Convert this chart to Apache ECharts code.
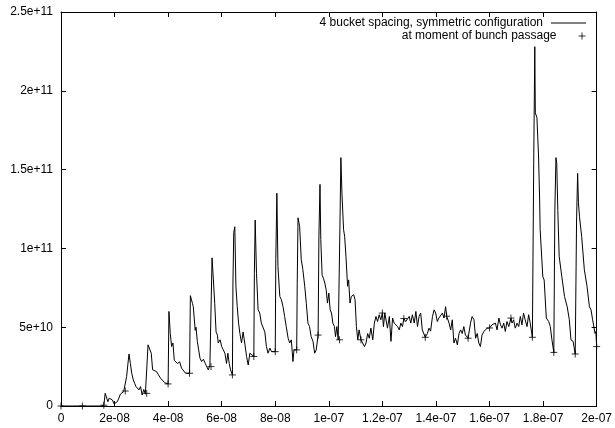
<!DOCTYPE html>
<html>
<head>
<meta charset="utf-8">
<script src="https://cdn.jsdelivr.net/npm/echarts@6/dist/echarts.min.js"></script>
<style>
html,body{margin:0;padding:0;background:#fff;}
#chart{width:615px;height:428px;}
</style>
</head>
<body>
<div id="chart"></div>
<script>
// time in ns, value in units of 1e9
var seriesNames = ['4 bucket spacing, symmetric configuration', 'at moment of bunch passage'];
var xTickLabels = ['0','2e-08','4e-08','6e-08','8e-08','1e-07','1.2e-07','1.4e-07','1.6e-07','1.8e-07','2e-07'];
var yTickLabels = ['0','5e+10','1e+11','1.5e+11','2e+11','2.5e+11'];

var lineTimeNs = [
0,15.1,16.0,16.5,17.0,17.5,18.0,18.6,19.2,19.8,20.4,21.0,21.6,22.2,22.8,23.4,24.0,
24.5,25.0,25.4,25.9,26.4,27.0,27.5,28.0,28.5,29.1,29.7,30.3,30.9,31.5,32.0,
32.5,33.2,33.7,34.2,34.9,35.7,36.4,37.2,37.9,38.7,39.4,40.0,
40.3,40.8,41.3,41.8,42.3,42.8,43.5,44.3,45.0,45.7,46.5,47.2,48.0,
48.3,49.1,49.4,50.1,50.4,50.9,51.4,51.9,52.5,53.2,53.8,54.4,55.0,55.6,56.0,
56.4,56.9,57.4,57.9,58.4,58.7,59.4,60.0,60.6,61.2,61.8,62.3,62.8,63.3,64.0,
64.2,64.5,64.9,65.3,65.8,66.3,66.8,67.4,68.0,68.7,69.3,69.9,70.5,71.1,72.0,
72.2,72.5,73.0,73.6,74.2,74.8,75.5,76.1,76.7,77.3,78.0,78.6,79.2,80.0,
80.2,80.6,81.0,81.7,82.3,82.9,83.5,84.1,84.8,85.4,86.0,86.6,87.0,88.0,
88.2,88.5,89.1,89.7,90.3,91.0,91.6,92.2,92.8,93.4,94.1,94.7,95.3,96.0,
96.3,96.7,97.0,97.5,98.0,98.5,99.0,99.5,100.0,100.5,101.0,101.5,102.1,102.5,103.0,103.5,104.0,
104.2,104.5,104.9,105.5,105.9,106.4,107.0,107.4,107.9,108.4,109.3,109.8,110.3,110.8,111.3,112.0,
112.6,113.3,113.9,114.5,115.1,115.7,116.4,117.0,117.6,118.2,118.8,119.4,120.0,
120.4,120.9,121.4,121.9,122.6,123.2,123.8,124.4,125.0,125.7,126.3,126.9,127.5,128.0,
128.7,129.4,130.0,130.6,131.2,131.9,132.5,133.1,133.7,134.3,134.9,135.6,136.0,
136.8,137.4,138.0,138.7,139.3,139.9,140.5,141.1,141.7,142.4,143.0,143.6,144.0,
144.9,145.5,146.1,146.7,147.3,148.0,148.6,149.2,149.8,150.4,151.0,152.0,
152.9,153.5,154.2,154.8,155.4,156.0,156.6,157.2,157.9,158.5,159.1,159.7,160.0,
160.9,161.6,162.2,162.8,163.5,164.1,164.7,165.3,165.9,166.5,167.2,168.0,
168.4,169.0,169.6,170.3,170.9,171.5,172.1,172.7,173.3,174.0,174.6,175.2,176.0,
176.5,176.9,177.1,177.7,178.3,178.7,178.9,179.9,180.4,181.2,182.1,182.7,183.3,184.0,
184.4,184.8,185.1,185.5,186.0,187.0,188.0,189.0,189.8,190.4,191.2,191.8,192.0,
192.5,192.9,193.2,193.6,194.4,195.4,196.4,197.3,197.9,198.5,199.4,199.7,200.0
];
var lineValueE9 = [
0,0,0.5,8.1,7.0,2.7,5.0,5.9,3.8,1.3,0.6,2.7,4.9,7.6,8.5,9.1,9.5,
18.6,27.0,33.0,27.0,20.8,16.5,14.4,12.3,12.9,10.2,12.3,7.0,10.5,7.5,8.0,
38.8,39.4,33.5,23.0,24.0,21.8,19.7,17.6,16.5,14.8,14.0,14.0,
60.0,46.0,37.7,40.0,29.0,28.0,27.0,28.0,24.0,25.0,20.8,19.7,20.8,
70.0,65.0,63.0,48.0,50.0,41.0,35.6,30.3,28.2,29.7,27.2,28.2,22.9,26.0,25.0,
94.0,80.0,65.0,47.0,45.0,40.0,42.0,37.7,35.6,33.5,27.0,33.5,27.0,22.9,19.7,
78,110,113.7,76,63,52.6,46,40,47,38.8,31.4,26,33.5,34.5,31.4,
84,118,84,61,59,52.6,53.6,47,37.7,33.5,36.7,34.5,33.9,34.5,
93,135,88.6,69.5,67.4,63,56.8,50.4,43,40,42,28.2,35.6,35.6,
78,119.4,114,93,86.5,76,65,52.6,50.4,44,41,33.5,35.6,45,
107.7,140.6,105.6,83,81,78,73.8,65.3,71.7,61,59,52.6,50.4,44,50.4,42,42,
120,157.6,135,112,107.7,95,76,80,65.3,69.5,70.6,67.4,50.4,42,48.3,42,
43,37.7,40,46,43,49.4,42,52.6,56.8,53.6,57.9,54.7,59,
50.4,59,57.9,49.4,56.8,41,55.8,52.6,53.6,50.4,48.3,52.6,50.4,55.5,
53.6,54.7,56.8,52.6,57.9,52.6,60,50.4,56.8,59,48.3,49.4,43.6,
46,49.4,47.5,56.8,61,59,53.6,55.8,54.7,59,55.8,63,57,
52.6,48.3,54.7,40,43,38.8,46,48.3,46,50.4,45,43,
52.6,56.8,54.7,43,46,40,37.7,45,47.3,48.3,49.4,50.4,49.5,
51.5,50.4,52.6,48.3,55.8,51.5,49.4,52.6,47.3,53.6,50.4,55.8,
52.6,54.7,49.4,52.6,50.4,56.8,51.5,59,54.7,50.4,57.9,52.6,43.6,
154,228,186,183,158.6,132,112,82,80,55.8,53.6,50.4,42,34,
125,157.6,154,124,95,82,69.5,63,54.7,42,41,40,33,
118,147.6,129,120,107.7,86.5,76,63,61,54.7,46,47.3,37.7
];
var bunchTimeNs = [0,8,16,24,32,40,48,56,64,72,80,88,96,104,112,120,128,136,144,152,160,168,176,184,192,200];
var bunchValueE9 = [0,0,0.5,9.5,8.0,14.0,20.8,25.0,19.7,31.4,34.5,35.6,45,42,42,59,55.5,43.6,57,43,49.5,55.8,43.6,34,33,37.7];

var FONT = 'Liberation Sans, Arial, Helvetica, sans-serif';
var lineData = lineTimeNs.map(function(t,i){return [t, lineValueE9[i]];});
var bunchData = bunchTimeNs.map(function(t,i){return [t, bunchValueE9[i]];});
var plusPath = 'path://M0,-1L0,1M-1,0L1,0';
var lineIcon = 'path://M0,0L35,0L35,1L0,1Z';

function xAxisCfg(pos, showLabels){
  return {
    type:'value', position:pos, min:0, max:200, interval:20,
    axisLine:{show:true, onZero:false, lineStyle:{color:'#000', width:1}},
    axisTick:{show:true, inside:true, length:5, lineStyle:{color:'#000', width:1}},
    splitLine:{show:false},
    axisLabel:{show:showLabels, margin:7, color:'#000', fontSize:12, fontFamily:FONT,
      showMinLabel:true, showMaxLabel:true,
      formatter:function(v){return xTickLabels[Math.round(v/20)];}}
  };
}
function yAxisCfg(pos, showLabels){
  return {
    type:'value', position:pos, min:0, max:250, interval:50,
    axisLine:{show:true, onZero:false, lineStyle:{color:'#000', width:1}},
    axisTick:{show:true, inside:true, length:5, lineStyle:{color:'#000', width:1}},
    splitLine:{show:false},
    axisLabel:{show:showLabels, margin:8, color:'#000', fontSize:12, fontFamily:FONT,
      showMinLabel:true, showMaxLabel:true,
      formatter:function(v){return yTickLabels[Math.round(v/50)];}}
  };
}

var chart = echarts.init(document.getElementById('chart'), null, {renderer:'canvas'});
chart.setOption({
  animation:false,
  backgroundColor:'#fff',
  grid:{left:61, right:15, top:12, bottom:22, containLabel:false},
  xAxis:[xAxisCfg('bottom', true), xAxisCfg('top', false)],
  yAxis:[yAxisCfg('left', true), yAxisCfg('right', false)],
  legend:[
    {data:[{name:seriesNames[0], icon:lineIcon}], right:29, top:17, padding:0, orient:'vertical', align:'right',
     itemWidth:35, itemHeight:12, selectedMode:false, symbolKeepAspect:true,
     itemStyle:{color:'#000', borderWidth:0},
     textStyle:{color:'#000', fontSize:12, fontFamily:FONT, padding:[0,3,0,0]}},
    {data:[{name:seriesNames[1]}], right:29, top:30, padding:0, orient:'vertical', align:'right',
     itemWidth:35, itemHeight:7, selectedMode:false,
     itemStyle:{color:'rgba(0,0,0,0)', borderColor:'#000', borderWidth:1},
     textStyle:{color:'#000', fontSize:12, fontFamily:FONT, padding:[0,3,0,0]}}
  ],
  series:[
    {name:seriesNames[0], type:'line', data:lineData, showSymbol:false, symbol:'none',
     lineStyle:{color:'#000', width:1}, itemStyle:{color:'#000'}, z:2},
    {name:seriesNames[1], type:'scatter', data:bunchData, symbol:plusPath, symbolSize:7,
     itemStyle:{color:'rgba(0,0,0,0)', borderColor:'#000', borderWidth:1}, z:3}
  ]
});
</script>
</body>
</html>
